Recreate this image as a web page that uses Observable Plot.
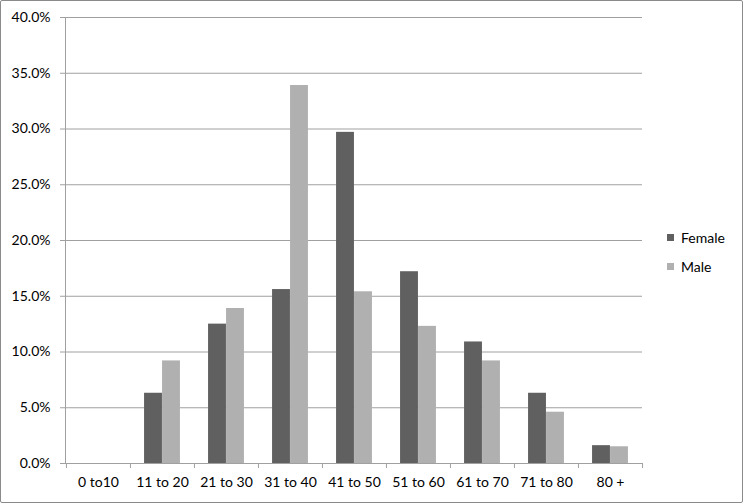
<!DOCTYPE html>
<html><head><meta charset="utf-8">
<script src="https://cdn.jsdelivr.net/npm/d3@7"></script>
<script src="https://cdn.jsdelivr.net/npm/@observablehq/plot@0.6"></script>
<style>
body{margin:0;background:#fff;}
#wrap{position:relative;width:744px;height:504px;font-family:Lato, "Open Sans", sans-serif;overflow:hidden;}
#frame{position:absolute;left:0;top:0;width:741px;height:501px;border:1px solid #8a8a8a;border-radius:2px;pointer-events:none;}
#legend{position:absolute;left:667px;top:228px;font-size:14px;color:#000;}
.item{display:flex;align-items:center;height:18px;margin-bottom:11px}
.sw{width:7px;height:7px;margin-right:7px}
</style></head><body>
<div id="wrap"><div id="chart"></div><div id="legend"></div><div id="frame"></div></div>
<script>
const categories = ["0 to10","11 to 20","21 to 30","31 to 40","41 to 50","51 to 60","61 to 70","71 to 80","80 +"];
const series = ["Female","Male"];
const female = [0, 6.3, 12.5, 15.6, 29.7, 17.2, 10.9, 6.3, 1.6];
const male   = [0, 9.2, 13.9, 33.9, 15.4, 12.3, 9.2, 4.6, 1.5];
const yTicks = [0, 5, 10, 15, 20, 25, 30, 35, 40];
const colors = ["#606060", "#b0b0b0"];

const W = 744, H = 504, ML = 65, MR = 102, MT = 17, MB = 41;
const step = (W - ML - MR) / categories.length;
const barW = 18;
const outer = (step - 2 * barW) / 2;

const rows = categories.flatMap((c, i) => [
  {cat: c, sex: "Female", v: female[i]},
  {cat: c, sex: "Male", v: male[i]}
]);
const gridColor = "#a0a0a0";

const chart = Plot.plot({
  width: W, height: H,
  marginLeft: ML, marginRight: MR, marginTop: MT, marginBottom: MB,
  style: {fontFamily: "Lato, 'Open Sans', sans-serif", fontSize: "14px", color: "#000", background: "white", overflow: "visible"},
  x: {domain: categories, padding: 0, axis: null},
  y: {domain: [0, 40], axis: null},
  color: {domain: series, range: colors},
  marks: [
    Plot.gridY({ticks: yTicks, stroke: gridColor, strokeOpacity: 1}),
    Plot.barY(rows.filter(d => d.sex === "Female"), {x: "cat", y: "v", fill: "sex", insetLeft: outer, insetRight: outer + barW}),
    Plot.barY(rows.filter(d => d.sex === "Male"), {x: "cat", y: "v", fill: "sex", insetLeft: outer + barW, insetRight: outer}),
    Plot.ruleY([0], {stroke: gridColor}),
    Plot.frame({anchor: "left", stroke: gridColor, strokeOpacity: 1}),
    Plot.ruleX(categories, {x: d => d, y1: 0, y2: 0, insetBottom: -5, dx: -step / 2, stroke: gridColor}),
    Plot.ruleX(categories.slice(-1), {x: d => d, y1: 0, y2: 0, insetBottom: -5, dx: step / 2, stroke: gridColor}),
    Plot.axisY({ticks: yTicks, tickSize: 5, tickPadding: 10, stroke: gridColor, fill: "#000", tickFormat: d => d.toFixed(1) + "%", label: null}),
    Plot.axisX({tickSize: 0, tickPadding: 14, fill: "#000", label: null})
  ]
});
document.getElementById("chart").appendChild(chart);

const legend = document.getElementById("legend");
series.forEach((s, i) => {
  const item = document.createElement("div");
  item.className = "item";
  const sw = document.createElement("span");
  sw.className = "sw";
  sw.style.background = colors[i];
  const t = document.createElement("span");
  t.textContent = s;
  item.appendChild(sw); item.appendChild(t);
  legend.appendChild(item);
});
</script>
</body></html>
